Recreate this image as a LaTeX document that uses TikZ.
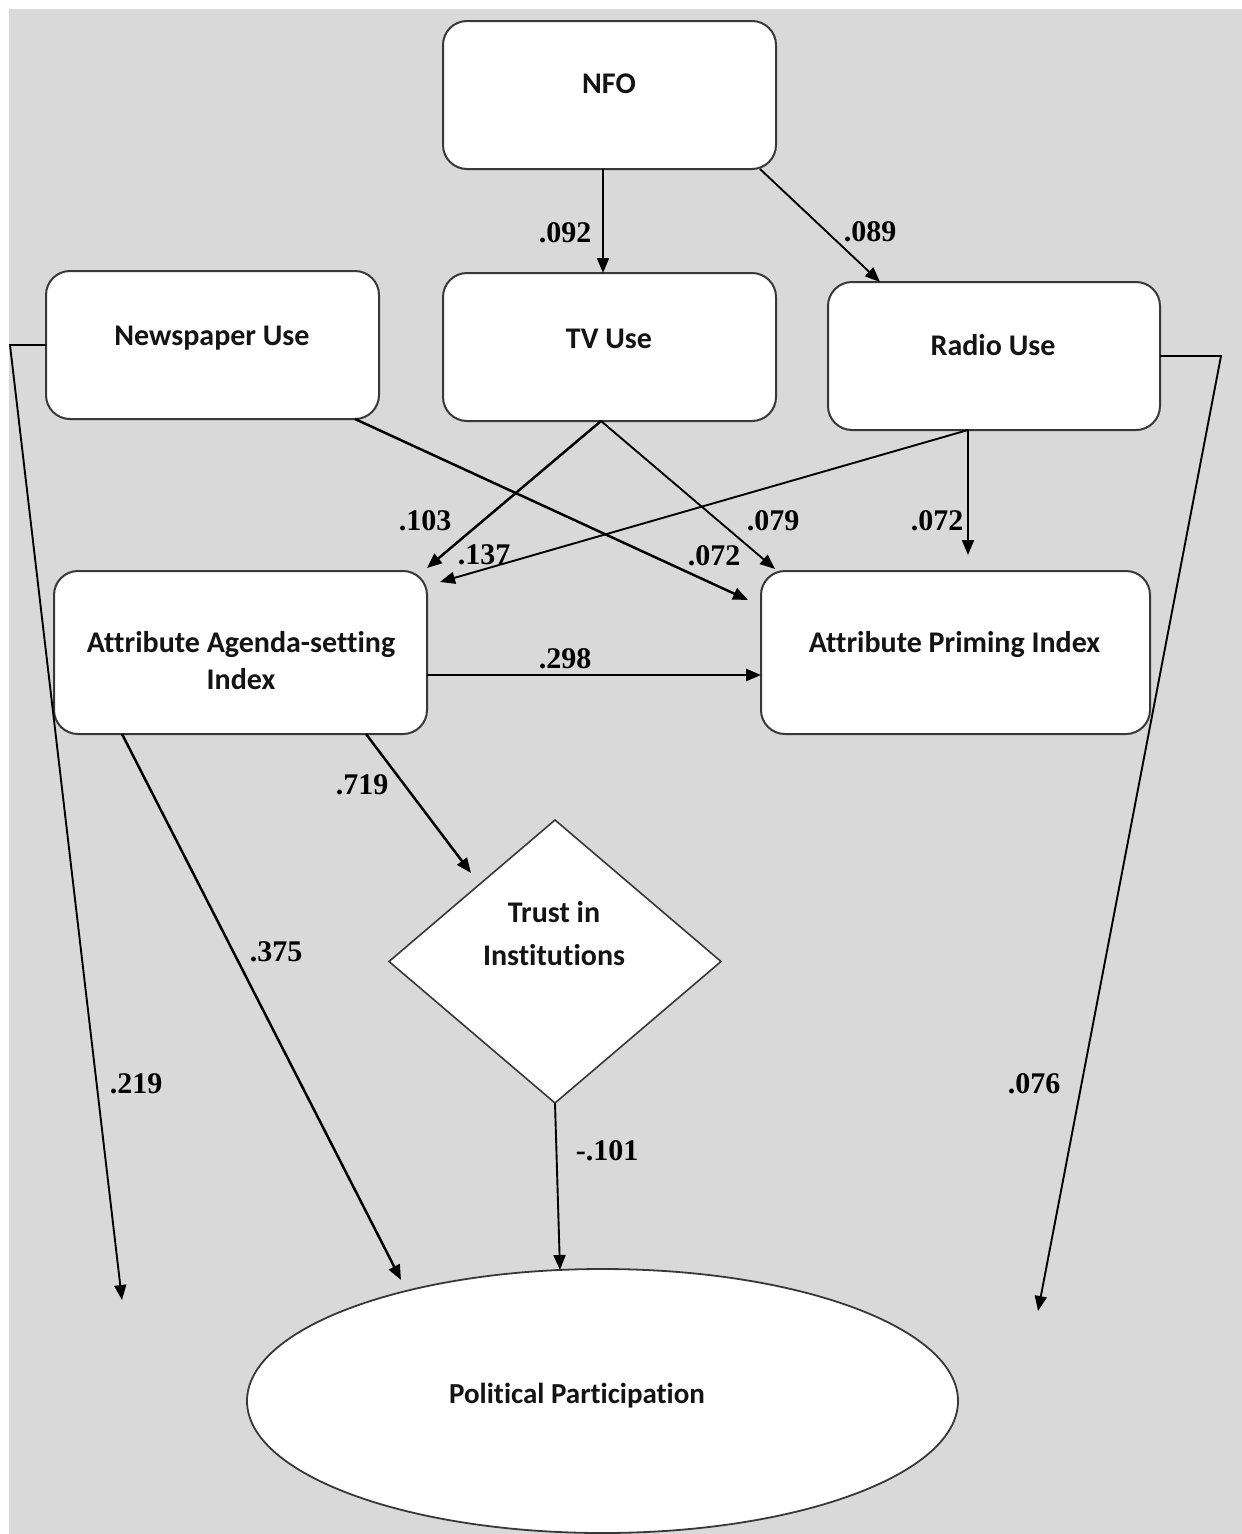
\documentclass[tikz,border=0pt]{standalone}
\usepackage{fontspec}
\setmainfont{Liberation Serif}
\newfontfamily\boxfont[Ligatures={NoCommon}]{Carlito}
\usetikzlibrary{shapes.geometric,arrows.meta}
\definecolor{bgcol}{HTML}{D9D9D9}
\definecolor{edgecol}{HTML}{383838}
\begin{document}
\begin{tikzpicture}[x=1pt,y=-1pt,
  rbox/.style={draw=edgecol, line width=2pt, fill=white, rounded corners=24pt, inner sep=0pt, outer sep=0pt},
  btxt/.style={font=\boxfont\bfseries\fontsize{30}{37}\selectfont, anchor=base, align=center, inner sep=0pt, text=black!92},
  numf/.style={font=\bfseries\fontsize{30}{36}\selectfont, inner sep=0pt},
  arr/.style={-{Triangle[length=15pt,width=12pt]}, line width=2.5pt, black},
  tarr/.style={-{Triangle[length=15pt,width=12pt]}, line width=1.9pt, black}]
\useasboundingbox (0,0) rectangle (1242,1534);
\fill[bgcol] (9,9) rectangle (1242,1534);

% boxes
\node[rbox, minimum width=333pt, minimum height=148pt] (nfo) at (609.5,95) {};
\node[rbox, minimum width=333pt, minimum height=148pt] (news) at (212.5,345) {};
\node[rbox, minimum width=333pt, minimum height=148pt] (tv) at (609.5,347) {};
\node[rbox, minimum width=332pt, minimum height=148pt] (radio) at (994,356) {};
\node[rbox, minimum width=373pt, minimum height=163pt] (agenda) at (240.5,652.5) {};
\node[rbox, minimum width=389pt, minimum height=163pt] (priming) at (955.5,652.5) {};
\node[diamond, draw=edgecol, fill=white, line width=1.6pt, inner sep=0pt, outer sep=0pt, aspect=1.17, minimum width=332pt, minimum height=283pt] (trust) at (555,961.5) {};
\node[ellipse, draw=edgecol, fill=white, line width=1.8pt, inner sep=0pt, outer sep=0pt, minimum width=711pt, minimum height=264pt] (pp) at (602.5,1401) {};

% texts
\node[btxt] (nfoT) at (609,93) {NFO};
\node[btxt] (newsT) at (212,345) {Newspaper Use};
\node[btxt] (tvT) at (609,348) {TV Use};
\node[btxt] (radioT) at (993,355) {Radio Use};
\node[btxt] (agendaT1) at (241,652) {Attribute Agenda-setting};
\node[btxt] (agendaT2) at (241,689) {Index};
\node[btxt] (primingT) at (954.5,652) {Attribute Priming Index};
\node[btxt] (trustT1) at (554,922) {Trust in};
\node[btxt] (trustT2) at (554,965) {Institutions};
\node[btxt, font=\boxfont\bfseries\fontsize{29}{35}\selectfont] (ppT) at (577,1403) {Political Participation};

% free coordinates
\coordinate (npBend) at (10,345);
\coordinate (npEnd) at (122,1300);
\coordinate (rdBend) at (1221,356);
\coordinate (rdEnd) at (1038,1311);

% connectors
\draw[tarr] ([xshift=-6.5pt]nfo.south) -- ([xshift=-6.5pt]tv.north);
\draw[tarr] ([xshift=-16pt]nfo.south east) -- ([xshift=52pt]radio.north west);
\draw[arr] ([xshift=-24pt]news.south east) -- ([xshift=-13pt,yshift=-29pt]priming.north west);
\draw[arr] ([xshift=-8.5pt]tv.south) -- ([yshift=3pt]agenda.north east);
\draw[tarr] ([xshift=-8.5pt]tv.south) -- ([xshift=14pt,yshift=2pt]priming.north west);
\draw[tarr] ([xshift=-26pt]radio.south) -- ([xshift=13pt,yshift=-11pt]agenda.north east);
\draw[tarr] ([xshift=-26pt]radio.south) -- ([xshift=12.5pt,yshift=16pt]priming.north);
\draw[arr] ([yshift=-22.5pt]agenda.east) -- ([yshift=-22.5pt]priming.west);
\draw[arr] ([xshift=-61pt]agenda.south east) -- ([xshift=-84pt,yshift=88.5pt]trust.center);
\draw[arr] ([xshift=68pt]agenda.south west) -- ([xshift=-201.5pt,yshift=121pt]pp.center);
\draw[tarr] (trust.south) -- ([xshift=-42.5pt,yshift=-1pt]pp.north);
\draw[tarr] (news.west) -- (npBend) -- (npEnd);
\draw[tarr] (radio.east) -- (rdBend) -- (rdEnd);

% labels
\node[numf] (l092) at (565,232.5) {.092};
\node[numf] (l089) at (870,232) {.089};
\node[numf] (l072a) at (714,556) {.072};
\node[numf] (l103) at (425,521) {.103};
\node[numf] (l079) at (773,521) {.079};
\node[numf] (l137) at (484,555) {.137};
\node[numf] (l072b) at (937,521) {.072};
\node[numf] (l298) at (565,659) {.298};
\node[numf] (l719) at (362,785) {.719};
\node[numf] (l375) at (276,952) {.375};
\node[numf] (l101) at (607,1151) {-.101};
\node[numf] (l219) at (136,1084) {.219};
\node[numf] (l076) at (1034,1084) {.076};
\end{tikzpicture}
\end{document}
